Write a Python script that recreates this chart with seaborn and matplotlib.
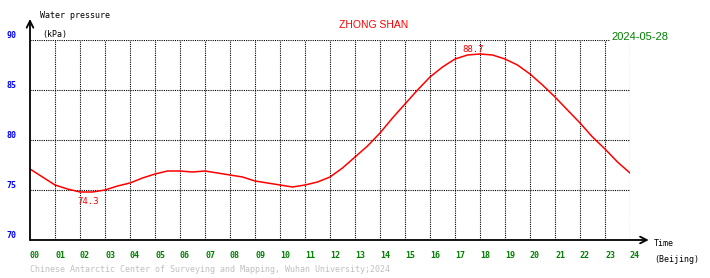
import matplotlib
matplotlib.use("Agg")
import matplotlib.pyplot as plt
import seaborn as sns
import pandas as pd

# ---- data ----
hours = [0, 0.5, 1, 1.5, 2, 2.5, 3, 3.5, 4, 4.5, 5, 5.5, 6, 6.5, 7, 7.5, 8, 8.5,
         9, 9.5, 10, 10.5, 11, 11.5, 12, 12.5, 13, 13.5, 14, 14.5, 15, 15.5, 16,
         16.5, 17, 17.5, 18, 18.5, 19, 19.5, 20, 20.5, 21, 21.5, 22, 22.5, 23,
         23.5, 24]
pressure = [77.1, 76.3, 75.5, 75.1, 74.8, 74.8, 75.0, 75.4, 75.7, 76.2, 76.6,
            76.9, 76.9, 76.8, 76.9, 76.7, 76.5, 76.3, 75.9, 75.7, 75.5, 75.3,
            75.5, 75.8, 76.3, 77.2, 78.3, 79.4, 80.7, 82.2, 83.6, 85.0, 86.3,
            87.3, 88.1, 88.5, 88.6, 88.5, 88.1, 87.5, 86.6, 85.5, 84.3, 83.0,
            81.7, 80.3, 79.1, 77.8, 76.7]
x_ticks = list(range(0, 25))
x_tick_labels = [f"{h:02d}" for h in x_ticks]
y_ticks = [70, 75, 80, 85, 90]
y_tick_labels = ["70", "75", "80", "85", "90"]
min_label = "74.3"
max_label = "88.7"
title = "ZHONG SHAN"
date_text = "2024-05-28"
footer = "Chinese Antarctic Center of Surveying and Mapping, Wuhan University;2024"

df = pd.DataFrame({"hour": hours, "pressure": pressure})

W, H = 710, 278
fig = plt.figure(figsize=(W / 100, H / 100), dpi=100)
fig.patch.set_facecolor("white")
ax = fig.add_axes([30 / W, (H - 240) / H, 600 / W, 200 / H])

mono = "DejaVu Sans Mono"
fs = 6

sns.lineplot(data=df, x="hour", y="pressure", ax=ax, color="red", linewidth=1.1)

ax.set_xlim(0, 24)
ax.set_ylim(70, 90)
for s in ax.spines.values():
    s.set_visible(False)

ax.set_xticks(x_ticks)
ax.set_xticklabels(x_tick_labels, fontsize=fs, family=mono, color="green",
                   ha="left", fontweight="bold")
ax.set_yticks(y_ticks)
ax.set_yticklabels(y_tick_labels, fontsize=fs, family=mono, color="blue",
                   va="bottom", fontweight="bold")
ax.tick_params(axis="both", length=0)
ax.tick_params(axis="x", pad=8)
ax.tick_params(axis="y", pad=10)
ax.set_xlabel("")
ax.set_ylabel("")

# grid
dots = (0, (1, 1))
for h in x_ticks[1:]:
    ax.axvline(h, color="black", linestyle=dots, linewidth=0.8, zorder=0)
for v in y_ticks[1:]:
    ax.axhline(v, color="black", linestyle=dots, linewidth=0.8, zorder=0)

# axes arrows
ax.annotate("", xy=(24.75, 70), xytext=(0, 70), xycoords="data",
            arrowprops=dict(arrowstyle="->", lw=1.3, color="black",
                            mutation_scale=12, shrinkA=0, shrinkB=0),
            annotation_clip=False)
ax.annotate("", xy=(0, 92.1), xytext=(0, 70), xycoords="data",
            arrowprops=dict(arrowstyle="->", lw=1.3, color="black",
                            mutation_scale=12, shrinkA=0, shrinkB=0),
            annotation_clip=False)

# min / max labels
ax.text(1.9, 73.9, min_label, fontsize=6.5, family=mono, color="red",
        ha="left", va="center")
ax.text(17.3, 89.1, max_label, fontsize=6.5, family=mono, color="red",
        ha="left", va="center")

# texts in figure pixels
def ftext(x, y, s, **kw):
    return fig.text(x / W, 1 - y / H, s, **kw)

ftext(40, 16, "Water pressure", fontsize=fs, family=mono, color="black", va="center")
ftext(42, 34, "(kPa)", fontsize=fs, family=mono, color="black", va="center")
ftext(654, 244, "Time", fontsize=fs, family=mono, color="black", va="center")
ftext(654, 260, "(Beijing)", fontsize=fs, family=mono, color="black", va="center")
ftext(339, 25, title, fontsize=7.5, family="Liberation Sans", color="red", va="center")
ftext(611, 37, date_text, fontsize=8, family="Liberation Sans", color="green",
      va="center", bbox=dict(facecolor="white", edgecolor="none", pad=0.5), zorder=5)
ftext(30, 270, footer, fontsize=fs, family=mono, color="#c0c0c0", va="center")

fig.savefig("out.png", dpi=100, facecolor="white")
